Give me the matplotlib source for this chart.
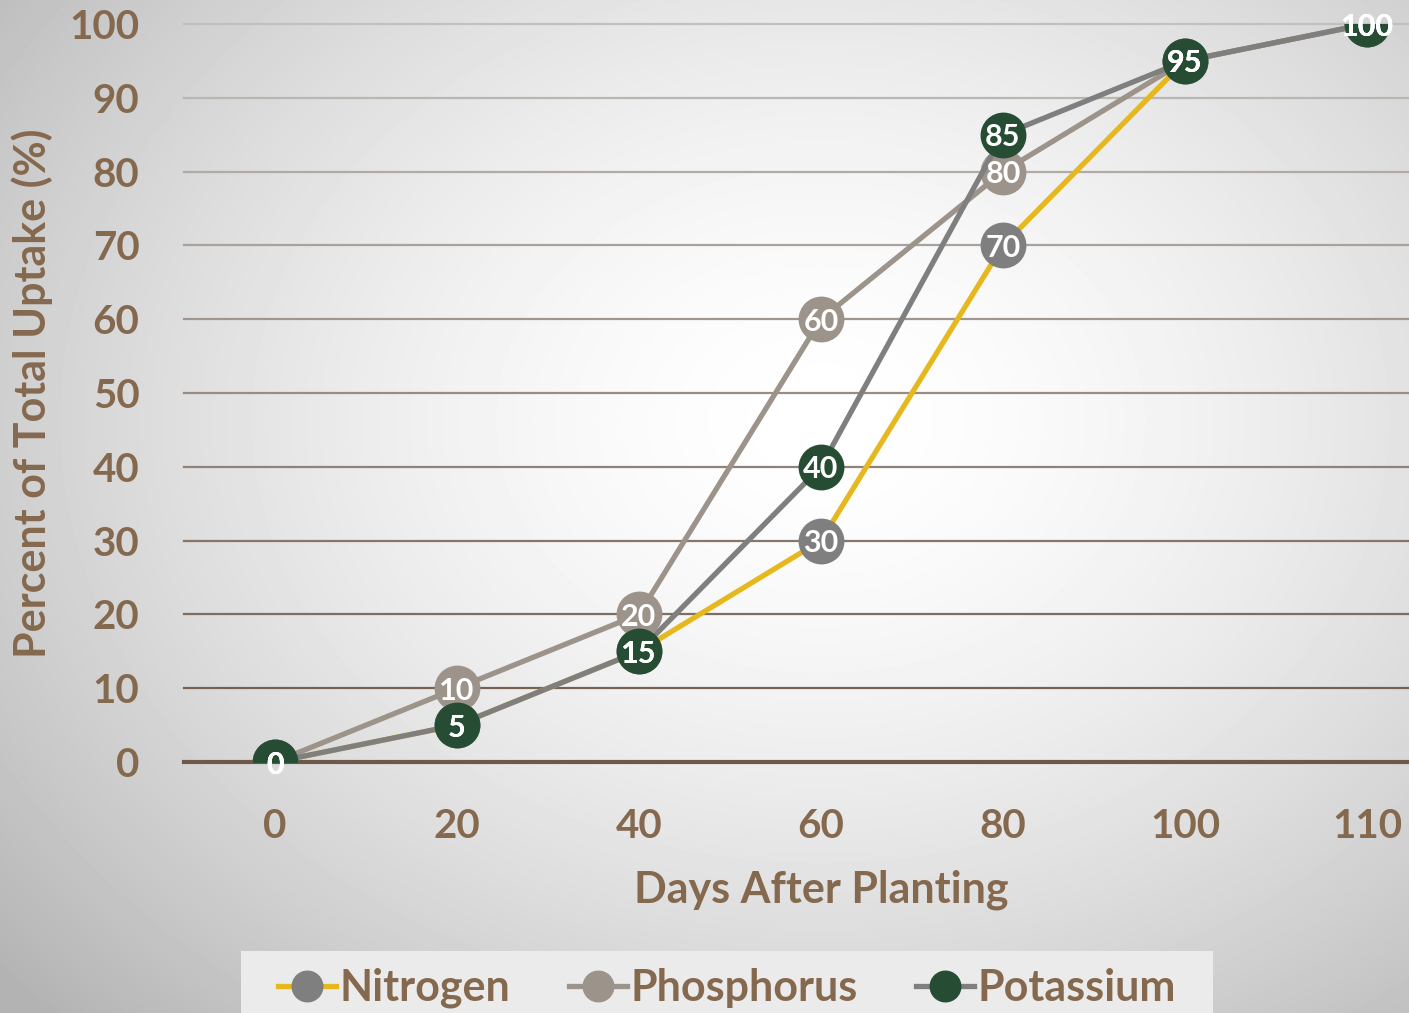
import numpy as np
import matplotlib
matplotlib.use('Agg')
from matplotlib import pyplot as plt
from matplotlib.lines import Line2D
from matplotlib.patches import Rectangle
from matplotlib.colors import to_rgb

# uptake curves, percent of season total
days = ["0", "20", "40", "60", "80", "100", "110"]
nitrogen = [0, 5, 15, 30, 70, 95, 100]
phosphorus = [0, 10, 20, 60, 80, 95, 100]
potassium = [0, 5, 15, 40, 85, 95, 100]
y_ticks = [0, 10, 20, 30, 40, 50, 60, 70, 80, 90, 100]

BROWN = '#85694f'
W, H = 1409, 1013

fig = plt.figure(figsize=(W / 100, H / 100), dpi=100)

# soft radial background
bg = fig.add_axes([0, 0, 1, 1], zorder=-10)
yy, xx = np.mgrid[0:H, 0:W]
r = np.hypot((xx - 820) / 900.0, (yy - 420) / 700.0)
shade = 1.0 - 0.22 * np.clip(r, 0, 1.2) ** 1.6
bg.imshow(shade, cmap='gray', vmin=0, vmax=1, aspect='auto', extent=[0, W, H, 0])
bg.axis('off')

# legend panel
fig.patches.append(Rectangle((241 / W, 0), (1213 - 241) / W, 62 / H,
                             transform=fig.transFigure, facecolor='#ebebeb',
                             edgecolor='none', zorder=-5))

x0, x1 = 184, 184 + 7 * 182
ax = fig.add_axes([x0 / W, (H - 762) / H, (x1 - x0) / W, (762 - 24) / H])
ax.patch.set_alpha(0)
x = np.arange(len(days))
ax.set_xlim(-0.5, len(days) - 0.5)
ax.set_ylim(0, 100)

# gridlines fade from brown at the bottom to light grey at the top
c_lo, c_hi = np.array(to_rgb('#6e5848')), np.array(to_rgb('#c2c0be'))
for v in y_ticks:
    t = v / 100
    ax.axhline(v, color=c_lo * (1 - t) + c_hi * t,
               lw=3 if v == 0 else 1.6, zorder=1, clip_on=False)

series = [
    ("Nitrogen", nitrogen, '#e6b81e', '#7f7f7f'),
    ("Phosphorus", phosphorus, '#9c938a', '#9c938a'),
    ("Potassium", potassium, '#7f7f7f', '#264d33'),
]
for i, (name, vals, lc, mc) in enumerate(series):
    ax.plot(x, vals, color=lc, lw=3.8, solid_capstyle='round', zorder=2 + i)
    ax.plot(x, vals, ls='none', marker='o', ms=32, mfc=mc, mec=mc, zorder=2 + i)

for name, vals, lc, mc in series:
    for xi, v in zip(x, vals):
        ax.text(xi, v, str(v), ha='center', va='center_baseline', color='white',
                fontsize=22, fontweight='bold', family='Lato', zorder=10)

ax.set_xticks(x)
ax.set_xticklabels(days)
ax.set_yticks(y_ticks)
ax.tick_params(length=0, colors=BROWN, labelsize=29)
ax.tick_params(axis='x', pad=33)
ax.tick_params(axis='y', pad=32)
for lab in ax.get_xticklabels() + ax.get_yticklabels():
    lab.set_fontweight('bold')
    lab.set_family('Lato')
for s in ax.spines.values():
    s.set_visible(False)

fig.text(821 / W, 1 - 890 / H, "Days After Planting", ha='center', va='center',
         color=BROWN, fontsize=31, fontweight='bold', family='Lato')
fig.text(32 / W, 1 - 393 / H, "Percent of Total Uptake (%)", ha='center', va='center',
         rotation=90, color=BROWN, fontsize=31, fontweight='bold', family='Lato')

handles = [Line2D([], [], color=lc, lw=3.8, marker='o', ms=22, mfc=mc, mec=mc)
           for _, _, lc, mc in series]
fig.legend(handles, [s[0] for s in series], ncol=3, frameon=False,
           loc='center', bbox_to_anchor=(727 / W, 1 - 988 / H),
           prop={'family': 'Lato', 'weight': 'bold', 'size': 31},
           labelcolor=BROWN, handlelength=1.35, handletextpad=0.08,
           columnspacing=1.35)

fig.savefig('out.png', dpi=100)
